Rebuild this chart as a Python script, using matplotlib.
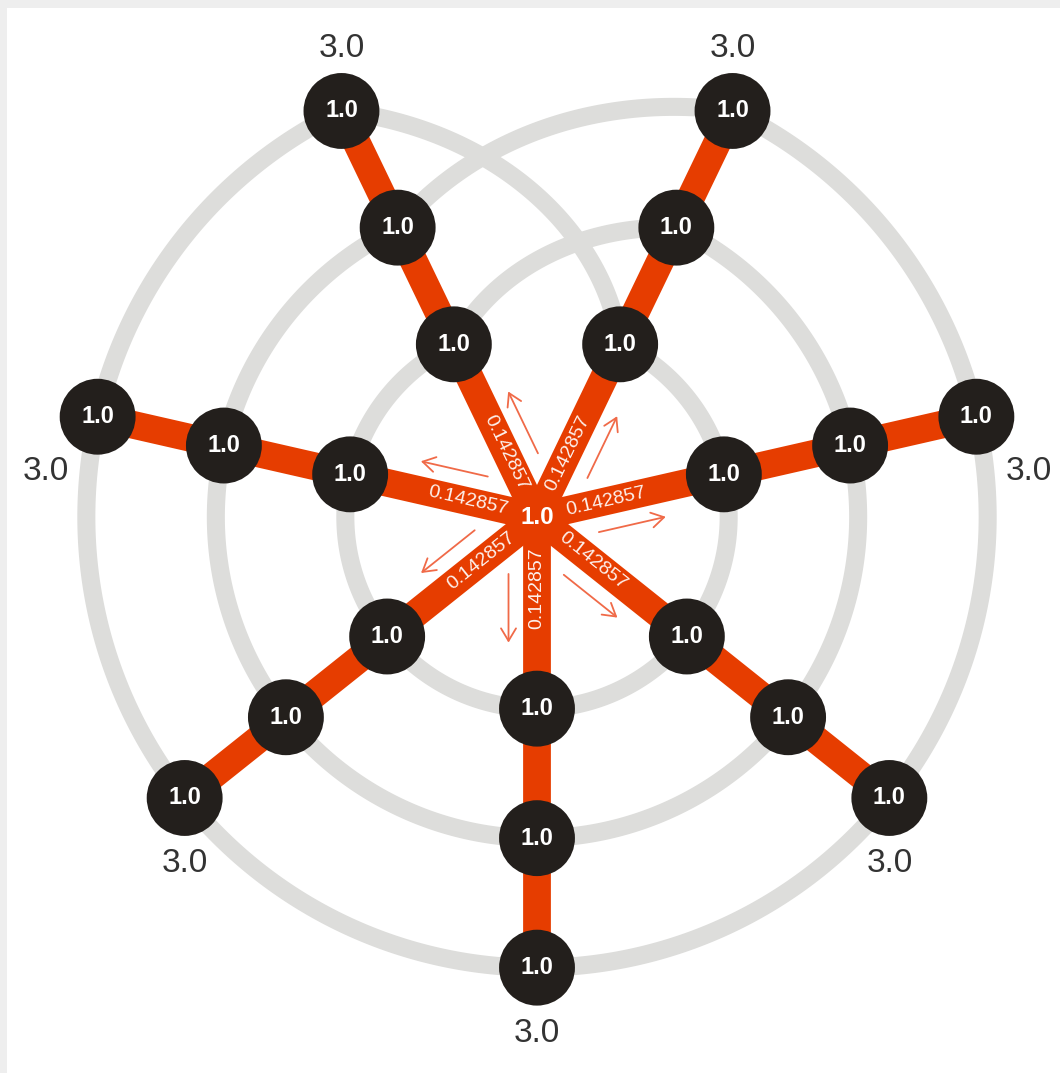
import numpy as np
import matplotlib.pyplot as plt
from matplotlib.patches import Circle, Rectangle

plt.rcParams['font.family'] = ['Liberation Sans', 'DejaVu Sans']

# data
# spokes counted counter-clockwise, starting with the one pointing down
spokes = ["bottom", "bottom-right", "right", "upper-right", "upper-left", "left", "bottom-left"]
levels = [1, 2, 3]
node_values = [
    [1.0, 1.0, 1.0],
    [1.0, 1.0, 1.0],
    [1.0, 1.0, 1.0],
    [1.0, 1.0, 1.0],
    [1.0, 1.0, 1.0],
    [1.0, 1.0, 1.0],
    [1.0, 1.0, 1.0],
]
center_value = 1.0
edge_weights = [0.142857, 0.142857, 0.142857, 0.142857, 0.142857, 0.142857, 0.142857]
outer_labels = [3.0, 3.0, 3.0, 3.0, 3.0, 3.0, 3.0]
# order in which the grey ring path walks round the spokes (clockwise from upper-right)
ring_order = [3, 2, 1, 0, 6, 5, 4]

# layout / style
R0 = 0.48            # radial offset of level 0
STEP = 360 / len(spokes)
ORANGE = "#e63d00"
NODE = "#231f1c"
GREY = "#dddddb"
ARROW = "#f06a48"


def angle(k):
    return -90 + k * STEP


def pos(k, lvl):
    a = np.radians(angle(k))
    r = lvl + R0
    return r * np.cos(a), r * np.sin(a)


fig = plt.figure(figsize=(10.6, 10.73), dpi=100, facecolor="#eeeeee")
bg = Rectangle((7 / 1060, 0), 1, 1 - 8 / 1073, transform=fig.transFigure,
               facecolor="white", edgecolor="none", zorder=-10)
fig.patches.append(bg)
ax = fig.add_axes([0, 0, 1, 1])
unit = 129.5
ax.set_xlim(-537 / unit, 523 / unit)
ax.set_ylim(-556 / unit, 517 / unit)
ax.set_aspect("equal")
ax.axis("off")

# grey ring path: one closed spiral through every node
path = [(k, lvl) for lvl in levels for k in ring_order]
t = np.linspace(0, 1, 80)
for i in range(len(path)):
    ka, la = path[i]
    kb, lb = path[(i + 1) % len(path)]
    th = np.radians(angle(ka) - STEP * t)
    r = (la + R0) + (lb - la) * t
    ax.plot(r * np.cos(th), r * np.sin(th), color=GREY, lw=13, solid_capstyle="butt", zorder=1)

# orange spokes
for k in range(len(spokes)):
    x, y = pos(k, levels[-1])
    ax.plot([0, x], [0, y], color=ORANGE, lw=20, solid_capstyle="butt", zorder=2)
ax.add_patch(Circle((0, 0), 0.18, color=ORANGE, zorder=2))

# edge weights and direction arrows
for k, w in enumerate(edge_weights):
    a = np.radians(angle(k))
    ux, uy = np.cos(a), np.sin(a)
    px, py = uy, -ux  # right-hand side of travel
    rot = angle(k)
    if rot <= -90:
        rot += 180
    elif rot > 90:
        rot -= 180
    ax.text(0.55 * ux, 0.55 * uy, f"{w:.6f}", rotation=rot, rotation_mode="anchor",
            ha="center", va="center", fontsize=14, color="white", alpha=0.92, zorder=3)
    off = 0.22
    ax.annotate("", xy=(0.97 * ux + off * px, 0.97 * uy + off * py),
                xytext=(0.44 * ux + off * px, 0.44 * uy + off * py),
                arrowprops=dict(arrowstyle="->,head_length=0.5,head_width=0.3", color=ARROW,
                                lw=1.3, mutation_scale=18, shrinkA=0, shrinkB=0),
                zorder=3)

ax.text(0, 0, f"{center_value:.1f}", ha="center", va="center", fontsize=17.5,
        fontweight="bold", color="white", zorder=5)

# nodes
for k in range(len(spokes)):
    for lvl, v in zip(levels, node_values[k]):
        x, y = pos(k, lvl)
        ax.add_patch(Circle((x, y), 0.293, facecolor=NODE, edgecolor="none", zorder=4))
        ax.text(x, y, f"{v:.1f}", ha="center", va="center", fontsize=17,
                fontweight="bold", color="white", zorder=5)

# labels next to the outer nodes
for k, lab in enumerate(outer_labels):
    x, y = pos(k, levels[-1])
    a = np.radians(angle(k))
    ux, uy = np.cos(a), np.sin(a)
    if uy > 0.5:
        off = (0, 62)
    elif uy < -0.5:
        off = (0, -66)
    else:
        off = (np.sign(ux) * 52, -55)
    ax.annotate(f"{lab:.1f}", xy=(x, y), xytext=off, textcoords="offset pixels",
                ha="center", va="center", fontsize=24, color="#333333", zorder=5)

plt.savefig("out.png", dpi=100, facecolor=fig.get_facecolor())
